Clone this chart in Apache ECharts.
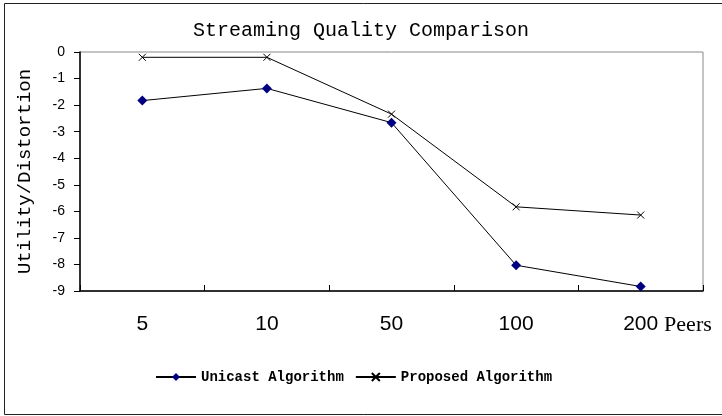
<!DOCTYPE html>
<html><head><meta charset="utf-8">
<script src="https://cdn.jsdelivr.net/npm/echarts@6/dist/echarts.min.js"></script>
<style>html,body{margin:0;padding:0;background:#fff}#c{width:722px;height:416px}</style>
</head><body><div id="c"></div>
<script>
const categories = ['5', '10', '50', '100', '200'];
const unicast = [-1.83, -1.37, -2.66, -8.03, -8.83];
const proposed = [-0.2, -0.2, -2.34, -5.83, -6.14];
const yTicks = {min: -9, max: 0, interval: 1};

const chart = echarts.init(document.getElementById('c'), null, {renderer: 'canvas'});
chart.setOption({
  animation: false,
  backgroundColor: '#fff',
  title: {
    text: 'Streaming Quality Comparison',
    left: 'center', top: 16,
    textStyle: {fontFamily: 'Liberation Mono', fontSize: 20, fontWeight: 'normal', color: '#000'}
  },
  graphic: [{
    type: 'rect', shape: {x: 4.5, y: 3.5, width: 730, height: 411},
    style: {fill: 'none', stroke: '#222', lineWidth: 1}, silent: true
  }],
  grid: {left: 80, top: 52, right: 19, bottom: 125, show: true, borderColor: '#888', borderWidth: 1},
  legend: {
    bottom: 27, left: 150,
    itemWidth: 40, itemHeight: 10, itemGap: 11,
    textStyle: {fontFamily: 'Liberation Mono', fontSize: 14, fontWeight: 'bold', color: '#000'},
    data: ['Unicast Algorithm', 'Proposed Algorithm']
  },
  xAxis: {
    type: 'category', data: categories, boundaryGap: true,
    name: 'Peers', nameLocation: 'end', nameGap: -41,
    nameTextStyle: {fontFamily: 'Liberation Serif', fontSize: 22, color: '#000',
      verticalAlign: 'top', align: 'left', lineHeight: 22, padding: [23, 0, 0, 0]},
    axisLine: {onZero: false, lineStyle: {color: '#000', width: 1.5}},
    axisTick: {show: true, inside: true, length: 6, lineStyle: {color: '#000', width: 1}},
    axisLabel: {margin: 23, fontFamily: 'Liberation Sans', fontSize: 21, color: '#000'}
  },
  yAxis: {
    type: 'value', min: yTicks.min, max: yTicks.max, interval: yTicks.interval,
    name: 'Utility/Distortion', nameLocation: 'middle', nameGap: 46, nameRotate: 90,
    nameTextStyle: {fontFamily: 'Liberation Mono', fontSize: 19, color: '#000'},
    axisLine: {show: true, onZero: false, lineStyle: {color: '#000', width: 1.5}},
    axisTick: {show: true, length: 6, lineStyle: {color: '#000'}},
    splitLine: {show: false},
    axisLabel: {margin: 15, fontFamily: 'Liberation Sans', fontSize: 14, color: '#000'}
  },
  series: [{
    name: 'Unicast Algorithm', type: 'line', data: unicast,
    symbol: 'diamond', symbolSize: 10,
    itemStyle: {color: '#000080'},
    lineStyle: {color: '#000', width: 1}
  }, {
    name: 'Proposed Algorithm', type: 'line', data: proposed,
    symbol: 'path://M0,0L10,10M10,0L0,10', symbolSize: 7,
    itemStyle: {color: '#000', borderColor: '#000', borderWidth: 1},
    lineStyle: {color: '#000', width: 1}
  }]
});
</script></body></html>
